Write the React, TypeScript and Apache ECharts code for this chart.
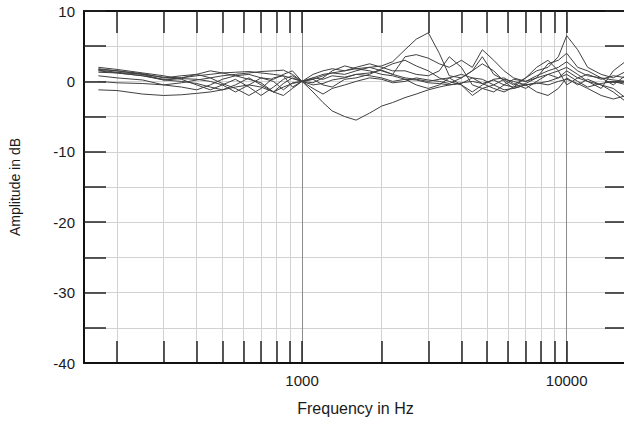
import React, { useEffect, useRef } from "react";
import * as echarts from "echarts";

// Frequencies (Hz) at which each curve is read
const FREQ = [170, 200, 250, 300, 350, 400, 450, 500, 560, 630, 700, 780, 850, 920, 1000, 1100, 1200, 1300, 1450, 1600, 1800, 2000, 2200, 2450, 2700, 3000, 3300, 3600, 4000, 4400, 4800, 5300, 5800, 6300, 7000, 7700, 8500, 9300, 10000, 11000, 12000, 13500, 15000, 16900];

// Amplitude curves in dB
const S1 = [1.8, 1.5, 1.0, 0.6, 0.5, 0.8, 1.0, 1.2, 1.3, 1.4, 1.2, 1.0, 0.8, 0.4, 0, 0.5, 1.0, 1.2, 1.5, 1.8, 2.0, 2.2, 2.8, 4.5, 6.0, 6.9, 4.0, 0.8, 0.5, 1.5, 3.5, 1.0, 0.2, -0.5, 0.5, 1.5, 2.0, 3.5, 6.5, 4.5, 2.0, 1.0, 0.5, 1.5];
const S2 = [1.5, 1.2, 0.8, 0.2, 0, -0.3, -0.8, -1.2, -0.5, 0.5, -0.5, -1.5, -0.3, 0.5, 0, -1.5, -3.0, -4.2, -5.0, -5.5, -4.5, -3.5, -3.0, -2.3, -1.8, -1.2, -0.8, -0.5, -0.2, 0, -0.3, -1.0, -1.5, -0.8, -0.3, 0.5, 1.0, 1.5, 2.0, 1.0, 0, -0.5, -1.0, -2.5];
const S3 = [-1.2, -1.3, -1.8, -2.0, -1.9, -1.7, -1.5, -1.2, -0.8, -0.5, -0.8, -1.5, -0.8, -0.3, 0, 0.3, 0.8, 1.2, 1.0, 1.5, 2.0, 1.5, 1.0, 3.5, 3.8, 3.3, 2.5, 2.0, 3.0, 2.0, 4.5, 3.0, 1.5, 0.5, 0, 0.5, 2.5, 3.0, 4.0, 2.0, 1.5, 0.5, -0.5, 1.0];
const S4 = [0, -0.2, -0.3, -0.5, -0.2, 0.2, 0.5, 0.8, 1.0, 1.2, 1.4, 1.5, 1.6, 1.0, 0, -0.5, -0.3, 0.2, 0.5, 1.0, 1.2, 1.6, 1.0, 0.5, 0.3, 0, 0.3, 0.5, -0.5, -2.0, -1.0, -0.5, 0.3, 0, -0.5, -0.3, 0, 0.5, 1.0, 0, -0.8, -0.3, 0, -0.5];
const S5 = [1.6, 1.3, 1.0, 0.2, 0.4, 0.3, 0, -0.5, -1.5, -0.5, 0.5, 0, -1.2, -0.2, 0, 0.5, 0.3, 0.8, 0.6, 1.0, 0.8, 0.5, 0, 0.3, 0.2, -0.2, -0.3, -0.5, -0.3, 0.5, -0.3, 0.2, -0.5, 0.3, 0, 0.8, 1.5, 2.0, 2.8, 1.5, 0.8, 0.5, 0.2, 0];
const S6 = [2.0, 1.7, 1.2, 0.8, 0.3, -0.5, -1.2, -0.5, 0.3, -0.8, -2.0, -0.8, 0.3, 0.8, 0, -0.2, 0.5, 1.5, 2.2, 1.8, 1.5, 1.0, 0.8, 0.3, -0.5, -1.0, -0.5, 0.5, 1.0, 0.5, 0.3, -0.5, -1.2, -1.0, -0.5, -1.5, -2.0, -1.0, 0.5, -0.5, 0.3, -0.5, -1.5, -3.0];
const S7 = [1.7, 1.5, 1.1, 0.5, 0.8, 1.0, 0.5, -0.3, -1.0, -2.0, -1.0, 0.5, 0.8, -0.8, 0, 1.0, 1.5, 1.8, 1.5, 2.0, 2.5, 2.0, 1.5, 1.5, 1.0, 0.8, 1.5, 3.5, 2.0, -0.5, -1.0, -1.5, -0.5, -0.8, 0.5, 2.0, 3.0, 1.5, -0.5, 0.5, 0, -1.0, 1.5, 3.0];
const S8 = [1.3, 1.2, 0.8, 0.3, 0.5, 1.0, 1.5, 1.2, 0.8, 0.3, -0.2, -1.5, -2.0, -1.0, 0, 0.3, -0.5, -0.8, 0.3, 0.5, 1.0, 1.8, 2.5, 3.0, 2.2, 1.5, 0.5, 0, -0.5, -1.5, -0.5, 0.3, 0.5, -0.3, -1.0, 0, 1.0, 0.5, 1.5, 0.5, 1.0, 0.3, 0.8, 0.5];
const S9 = [0.8, 0.5, 0.2, -0.5, -0.8, -1.2, -0.5, 0.3, 0.8, 1.0, 0.5, 0.3, 1.0, 1.5, 0, -1.0, -1.8, -1.0, -0.5, 0, 0.5, 0.3, -0.2, 0, 0.5, 0.2, 0, -0.3, 0.5, 1.5, 2.5, 1.5, 0, -1.0, -0.5, -0.2, -0.5, 0, 0.3, -0.3, -1.0, -2.0, -2.5, -2.0];

const CURVES = [S1, S2, S3, S4, S5, S6, S7, S8, S9];

// Axis ranges and tick positions
const X_MIN = 150;
const X_MAX = 16900;
const X_TICKS = [200, 300, 400, 500, 600, 700, 800, 900, 1000, 2000, 3000, 4000, 5000, 6000, 7000, 8000, 9000, 10000];
const X_LABELS = [1000, 10000];
const Y_MIN = -40;
const Y_MAX = 10;
const Y_STEP = 5;

export default function App() {
  const ref = useRef<HTMLDivElement>(null);

  useEffect(() => {
    if (!ref.current) return;
    const chart = echarts.init(ref.current, null, { renderer: "svg" });
    const font = "Liberation Sans, Arial, Helvetica, sans-serif";
    const lx = X_TICKS.map((f) => Math.log10(f));
    const gridColors = X_TICKS.map((f) => (X_LABELS.includes(f) ? "#8c8c8c" : "#d2d2d2"));

    const option: any = {
      animation: false,
      backgroundColor: "#ffffff",
      grid: { left: 83, top: 11, right: 3, bottom: 58 },
      xAxis: [
        {
          type: "log",
          logBase: 10,
          min: X_MIN,
          max: X_MAX,
          position: "bottom",
          axisLine: { show: true, onZero: false, lineStyle: { color: "#111", width: 2 } },
          axisTick: { show: false },
          splitLine: { show: false },
          axisLabel: {
            color: "#1a1a1a",
            fontFamily: font,
            fontSize: 15,
            margin: 10,
            formatter: (v: number) => {
              const r = X_LABELS.find((l) => Math.abs(l - v) < 1);
              return r ? String(r) : "";
            },
          },
          name: "Frequency in Hz",
          nameLocation: "middle",
          nameGap: 37,
          nameTextStyle: { color: "#1a1a1a", fontFamily: font, fontSize: 16 },
          z: 3,
        },
        {
          type: "value",
          min: Math.log10(X_MIN),
          max: Math.log10(X_MAX),
          position: "bottom",
          axisLine: { show: false, onZero: false },
          axisLabel: { show: false },
          axisTick: { show: true, inside: true, length: 22, customValues: lx, lineStyle: { color: "#222", width: 1.5 } },
          splitLine: { show: true, lineStyle: { color: gridColors, width: 1 } },
        },
        {
          type: "value",
          min: Math.log10(X_MIN),
          max: Math.log10(X_MAX),
          position: "top",
          axisLine: { show: true, onZero: false, lineStyle: { color: "#111", width: 2 } },
          axisLabel: { show: false },
          axisTick: { show: true, inside: true, length: 22, customValues: lx, lineStyle: { color: "#222", width: 1.5 } },
          splitLine: { show: false },
        },
      ],
      yAxis: [
        {
          type: "value",
          min: Y_MIN,
          max: Y_MAX,
          interval: Y_STEP,
          position: "left",
          axisLine: { show: true, onZero: false, lineStyle: { color: "#111", width: 2 } },
          axisTick: { show: true, inside: true, length: 22, lineStyle: { color: "#222", width: 1.5 } },
          splitLine: { show: true, lineStyle: { color: "#d2d2d2", width: 1 } },
          axisLabel: {
            color: "#1a1a1a",
            fontFamily: font,
            fontSize: 15,
            margin: 9,
            formatter: (v: number) => (v % 10 === 0 ? String(v) : ""),
          },
          name: "Amplitude in dB",
          nameLocation: "middle",
          nameRotate: 90,
          nameGap: 62,
          nameTextStyle: { color: "#1a1a1a", fontFamily: font, fontSize: 14 },
        },
        {
          type: "value",
          min: Y_MIN,
          max: Y_MAX,
          interval: Y_STEP,
          position: "right",
          axisLine: { show: true, onZero: false, lineStyle: { color: "#111", width: 2 } },
          axisTick: { show: true, inside: true, length: 22, lineStyle: { color: "#222", width: 1.5 } },
          splitLine: { show: false },
          axisLabel: { show: false },
        },
      ],
      series: CURVES.map((c, i) => ({
        name: "curve" + (i + 1),
        type: "line",
        xAxisIndex: 0,
        yAxisIndex: 0,
        showSymbol: false,
        symbol: "none",
        silent: true,
        lineStyle: { color: "#404040", width: 1 },
        data: FREQ.map((f, j) => [f, c[j]]),
        z: 4,
      })),
    };
    chart.setOption(option);
    return () => chart.dispose();
  }, []);

  return (
    <div
      ref={ref}
      style={{ position: "fixed", left: 0, top: 0, width: 630, height: 421 }}
    />
  );
}
